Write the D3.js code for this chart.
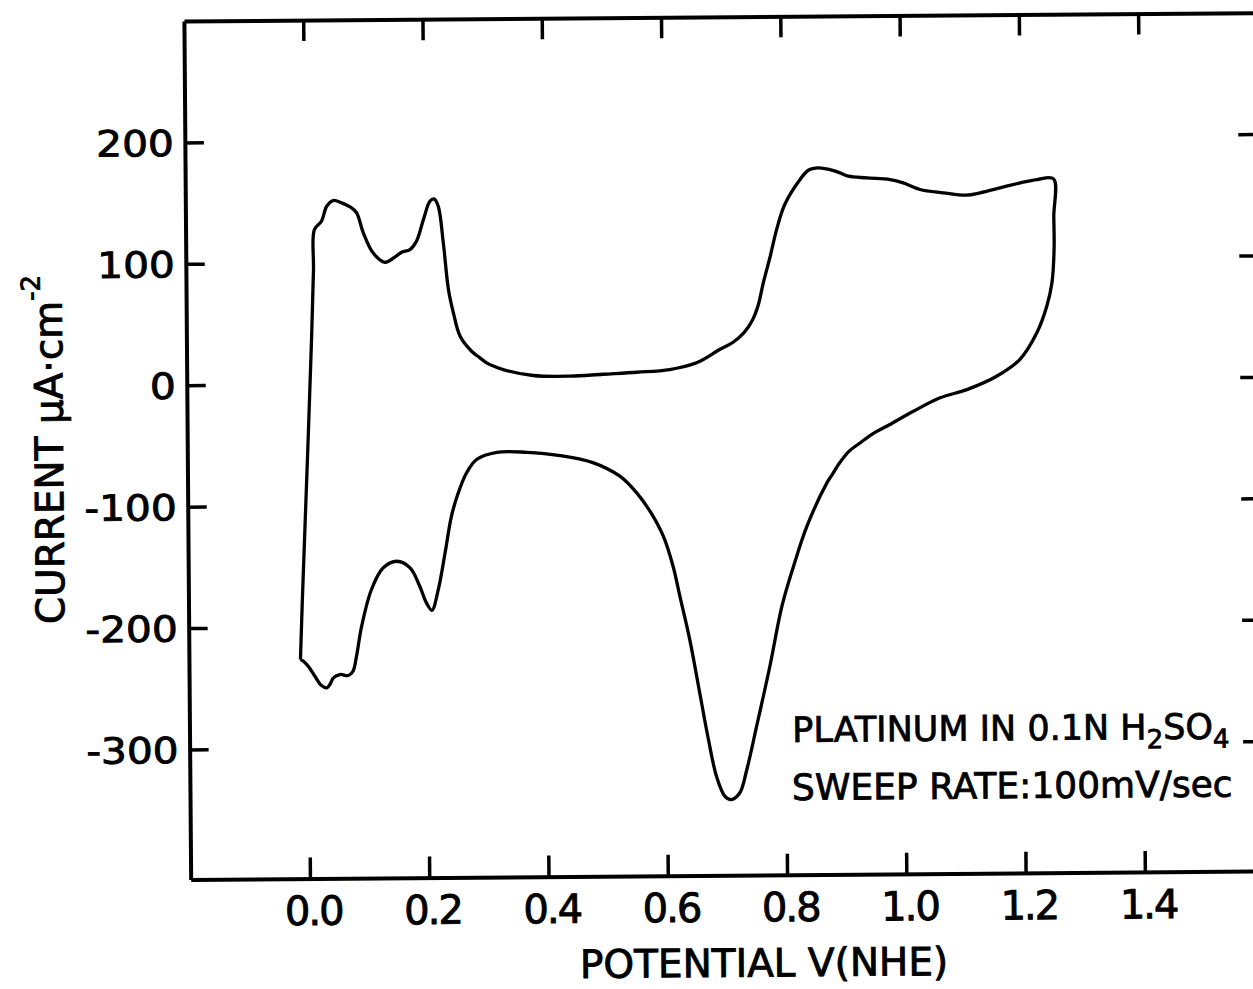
<!DOCTYPE html>
<html><head><meta charset="utf-8">
<script src="https://cdn.jsdelivr.net/npm/d3@7"></script>
<style>body{margin:0;background:#fff} svg{display:block}</style>
</head><body>
<svg id="chart" width="1253" height="989"></svg>
<script>
// ---- data ----
// anodic (forward) sweep, potential in V(NHE), current in µA/cm²
const anodicV = [-0.013,-0.009,0.003,0.010,0.014,0.016,0.028,0.037,0.048,0.062,0.076,0.087,0.098,0.114,0.134,0.151,0.162,0.176,0.187,0.199,0.210,0.217,0.224,0.232,0.240,0.248,0.259,0.278,0.292,0.303,0.331,0.381,0.443,0.498,0.555,0.610,0.655,0.694,0.716,0.735,0.749,0.759,0.768,0.780,0.791,0.805,0.831,0.845,0.862,0.881,0.898,0.912,0.943,0.982,1.004,1.032,1.071,1.110,1.133,1.166,1.200,1.228,1.256];
const anodicI = [-226.6,-177.2,-43.0,39.6,94.5,127.4,134.2,146.5,151.2,149.2,145.9,140.9,124.4,107.9,100.0,104.4,108.2,110.3,117.1,135.0,150.0,151.9,145.8,115.6,77.2,57.9,38.6,26.2,20.7,16.5,10.9,5.8,5.0,6.4,7.8,9.8,15.2,26.0,31.7,39.8,49.7,62.0,80.6,102.5,124.4,145.0,165.5,173.1,175.0,173.5,170.7,167.9,166.4,164.9,162.1,156.5,153.6,151.5,153.4,157.3,161.3,163.9,164.4];
// cathodic (return) sweep
const cathodicV = [1.256,1.256,1.252,1.243,1.226,1.197,1.158,1.108,1.063,1.018,0.973,0.950,0.928,0.909,0.894,0.881,0.872,0.838,0.815,0.795,0.774,0.751,0.734,0.722,0.708,0.697,0.683,0.670,0.656,0.640,0.624,0.613,0.597,0.575,0.553,0.525,0.481,0.425,0.369,0.319,0.285,0.268,0.253,0.242,0.231,0.219,0.208,0.199,0.188,0.172,0.150,0.127,0.107,0.090,0.081,0.075,0.067,0.053,0.042,0.036,0.031,0.022,0.011,0.000,-0.008,-0.013];
const cathodicI = [133.6,106.2,78.8,59.5,37.7,15.8,2.2,-8.6,-15.2,-26.1,-38.3,-44.2,-51.9,-58.9,-67.9,-77.7,-84.5,-120.1,-153.0,-185.8,-235.2,-284.5,-320.1,-339.2,-344.7,-342.0,-325.4,-295.1,-256.6,-212.7,-176.9,-152.2,-127.4,-106.7,-91.5,-77.7,-66.5,-60.3,-57.4,-57.2,-63.0,-73.9,-91.5,-109.6,-139.4,-169.9,-186.9,-180.8,-167.0,-151.8,-146.3,-151.6,-169.4,-199.6,-224.3,-236.6,-240.1,-239.2,-241.9,-247.4,-250.1,-248.2,-240.5,-232.2,-228.0,-226.6];

const xExtent = [-0.2, 1.6];
const yExtent = [-407, 300];
const xTicks = [0, 0.2, 0.4, 0.6, 0.8, 1.0, 1.2, 1.4];
const xTickLabels = ["0.0","0.2","0.4","0.6","0.8","1.0","1.2","1.4"];
const yTicks = [-300, -200, -100, 0, 100, 200];
const yTickLabels = ["-300","-200","-100","0","100","200"];
const xTitle = "POTENTIAL V(NHE)";
const yTitle = "CURRENT \u03BCA\u00B7cm";
const yTitleSup = "-2";
const note1 = ["PLATINUM IN 0.1N H", "2", "SO", "4"];
const note2 = "SWEEP RATE:100mV/sec";

// ---- drawing ----
const W = 1253, H = 989;
const font = "'DejaVu Sans', sans-serif";
const svg = d3.select("#chart");
svg.append("rect").attr("width", W).attr("height", H).attr("fill", "#fff");
const g = svg.append("g").attr("transform", "rotate(-0.45,700,450)");

const x = d3.scaleLinear().domain(xExtent).range([187.3, 1260.8]);
const y = d3.scaleLinear().domain(yExtent).range([875.4, 17]);

function styleAxis(sel, fs) {
  sel.attr("font-family", font).attr("font-size", fs);
  sel.selectAll("path").attr("stroke", "#000").attr("stroke-width", 4);
  sel.selectAll("line").attr("stroke", "#000").attr("stroke-width", 3.5);
  sel.selectAll("text").attr("stroke", "#000").attr("stroke-width", 0.9);
}

const axBottom = g.append("g").attr("transform", `translate(0,${y(yExtent[0])})`)
  .call(d3.axisBottom(x).tickValues(xTicks).tickFormat((d, i) => xTickLabels[i])
    .tickSizeInner(-21).tickSizeOuter(0).tickPadding(18));
styleAxis(axBottom, 40);
axBottom.selectAll("text").attr("x", 3).style("letter-spacing", "-2px");

const axTop = g.append("g").attr("transform", `translate(0,${y(yExtent[1])})`)
  .call(d3.axisTop(x).tickValues(xTicks).tickFormat("").tickSizeInner(-21).tickSizeOuter(0));
styleAxis(axTop, 10);

const axLeft = g.append("g").attr("transform", `translate(${x(xExtent[0])},0)`)
  .call(d3.axisLeft(y).tickValues(yTicks).tickFormat((d, i) => yTickLabels[i])
    .tickSizeInner(-19).tickSizeOuter(0).tickPadding(11));
styleAxis(axLeft, 36);
axLeft.selectAll("text").attr("x", 0).attr("dy", "0.36em")
  .attr("transform", "translate(-11,0) scale(1.13,1)");

const axRight = g.append("g").attr("transform", `translate(${x(xExtent[1])},0)`)
  .call(d3.axisRight(y).tickValues(yTicks).tickFormat("").tickSizeInner(-20).tickSizeOuter(0));
styleAxis(axRight, 10);

// the cyclic voltammogram loop
const loop = anodicV.map((v, i) => [v, anodicI[i]])
  .concat(cathodicV.map((v, i) => [v, cathodicI[i]]));
const line = d3.line().x(d => x(d[0])).y(d => y(d[1])).curve(d3.curveCatmullRom.alpha(0.5));
g.append("path").datum(loop).attr("d", line)
  .attr("fill", "none").attr("stroke", "#000").attr("stroke-width", 3.3)
  .attr("stroke-linejoin", "round");

// titles
g.append("text").attr("x", 760).attr("y", 977).attr("text-anchor", "middle")
  .attr("font-family", font).attr("font-size", 39)
  .attr("stroke", "#000").attr("stroke-width", 0.9).text(xTitle);

const yt = g.append("text").attr("transform", "translate(63,619) rotate(-90)")
  .attr("text-anchor", "start").attr("font-family", font).attr("font-size", 39)
  .attr("stroke", "#000").attr("stroke-width", 0.9);
yt.append("tspan").text(yTitle);
yt.append("tspan").attr("dy", -22).attr("font-size", 26).text(yTitleSup);

// annotation
const n1 = g.append("text").attr("x", 790).attr("y", 742.7)
  .attr("font-family", font).attr("font-size", 35)
  .attr("stroke", "#000").attr("stroke-width", 0.8);
n1.append("tspan").text(note1[0]);
n1.append("tspan").attr("dy", 9).attr("font-size", 26).text(note1[1]);
n1.append("tspan").attr("dy", -9).text(note1[2]);
n1.append("tspan").attr("dy", 9).attr("font-size", 26).text(note1[3]);

g.append("text").attr("x", 789.3).attr("y", 800.7)
  .attr("font-family", font).attr("font-size", 36)
  .attr("stroke", "#000").attr("stroke-width", 0.8).text(note2);
</script>
</body></html>
